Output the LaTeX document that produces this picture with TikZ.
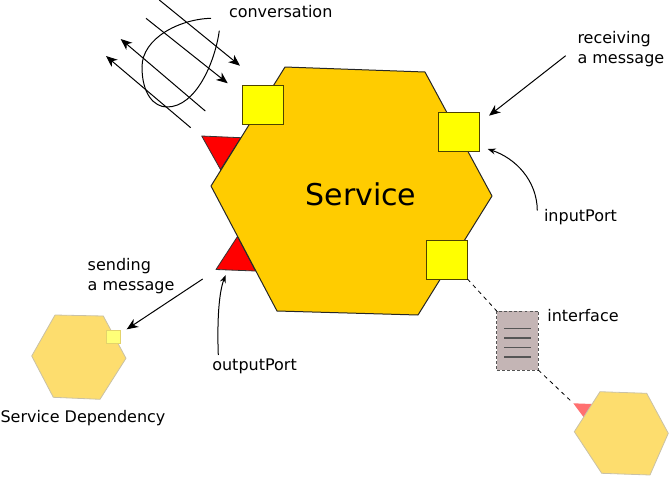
\documentclass[tikz,border=0pt]{standalone}
\usepackage{fontspec}
\setmainfont{DejaVu Sans}
\usetikzlibrary{arrows.meta}
\definecolor{svcfill}{HTML}{FFCC00}
\definecolor{portfill}{HTML}{FFFF00}
\definecolor{portline}{HTML}{4D4300}
\definecolor{lighthex}{HTML}{FDDD6E}
\definecolor{lighthexline}{HTML}{C9C1A6}
\definecolor{lightport}{HTML}{FFFF78}
\definecolor{lightportline}{HTML}{E3D36B}
\definecolor{pinktri}{HTML}{FF7070}
\definecolor{ifacefill}{HTML}{C4B5B5}
\definecolor{ifaceline}{HTML}{555555}
\tikzset{
  lbl/.style={font=\fontsize{12}{15}\selectfont, inner sep=0pt, outer sep=0pt, align=left},
  port/.style={draw=portline, fill=portfill, line width=0.75pt, inner sep=0pt, outer sep=0pt, minimum width=30.75pt, minimum height=29.25pt},
  redtri/.style={draw=black!80, fill=red, line width=0.6pt, line join=round},
  bigarrow/.style={draw=black, line width=0.75pt, -{Stealth[length=8.5pt,width=7pt,inset=2.5pt]}},
  smallarrow/.style={draw=black, line width=0.75pt, -{Stealth[length=6pt,width=4.5pt,inset=2pt]}},
  dashline/.style={draw=black, line width=0.6pt, dash pattern=on 3pt off 3pt},
}
\begin{document}
\begin{tikzpicture}[x=0.75pt,y=-0.75pt]
\useasboundingbox (0,0) rectangle (669,476);

% red output/input triangles behind the service
\path[redtri] (201.7,136) -- (241,137.7) -- (220.5,169.5) -- cycle;
\path[redtri] (216,269.5) -- (255.5,271) -- (237.5,236.5) -- cycle;

% main service hexagon
\path[draw=black!85, fill=svcfill, line width=0.75pt, line join=round]
  (285,67) -- (425,72) -- (492,196) -- (418,315) -- (277,311) -- (211,186) -- cycle;
\node[font=\fontsize{22.5}{27}\selectfont, inner sep=0pt, anchor=base] (service) at (361,205) {Service};

% ports
\node[port] (portA) at (263,104.5) {};
\node[port] (portB) at (459,131.5) {};
\node[port] (portC) at (447,259.5) {};

% conversation
\coordinate (c1s) at (159.3,0);   \coordinate (c1e) at (240,65.7);
\coordinate (c2s) at (146,18.3);  \coordinate (c2e) at (227.7,83.3);
\coordinate (c3s) at (205.3,111); \coordinate (c3e) at (120.7,39);
\coordinate (c4s) at (190.7,127.7); \coordinate (c4e) at (106,56);
\draw[bigarrow] (c1s) -- (c1e);
\draw[bigarrow] (c2s) -- (c2e);
\draw[bigarrow] (c3s) -- (c3e);
\draw[bigarrow] (c4s) -- (c4e);
\draw[line width=0.75pt] (211,18.3) .. controls (180,19) and (142,38) .. (142,67)
  .. controls (142,94) and (154,107) .. (167,107)
  .. controls (196,107) and (215,62) .. (219.3,30.7);
\node[lbl, anchor=base west] (conv) at (229,17) {conversation};

% receiving a message
\node[lbl, anchor=base west] (recv) at (577.5,63.5) {receiving\\a message};
\coordinate (recvS) at (565.7,55.7);
\coordinate (recvE) at (489,115.7);
\draw[bigarrow] (recvS) -- (recvE);

% inputPort
\node[lbl, anchor=base west] (inport) at (544,221) {inputPort};
\coordinate (inS) at (537.3,210.5);
\coordinate (inE) at (487.7,149);
\draw[smallarrow] (inS) .. controls (537,180) and (515,158) .. (inE);

% sending a message
\node[lbl, anchor=base west] (send) at (87.7,290) {sending\\a message};
\coordinate (sendS) at (202.7,279);
\coordinate (sendE) at (126.7,329.3);
\draw[bigarrow] (sendS) -- (sendE);

% outputPort
\node[lbl, anchor=base west] (outport) at (212.3,370) {outputPort};
\coordinate (outS) at (218.3,355);
\coordinate (outE) at (225.7,275);
\draw[smallarrow] (outS) .. controls (217,320) and (219,292) .. (outE);

% service dependency
\path[draw=lighthexline, fill=lighthex, line width=0.6pt, line join=round]
  (55,315) -- (103.3,316) -- (126,358.3) -- (100,399.3) -- (53.3,397.3) -- (31.7,356) -- cycle;
\node[draw=lightportline, fill=lightport, line width=0.6pt, inner sep=0pt, minimum width=10.5pt, minimum height=10pt] (depport) at (113.7,336.7) {};
\node[lbl, anchor=base west] (deplbl) at (0.5,422) {Service Dependency};

% interface
\node[draw=ifaceline, fill=ifacefill, line width=0.75pt, dash pattern=on 2.2pt off 1.6pt, inner sep=0pt, outer sep=0pt, minimum width=31.2pt, minimum height=44.25pt] (iface) at (517.5,340.5) {};
\foreach \yy in {328.7,337.9,347.3,357.0}
  \draw[ifaceline, line width=1.1pt] (504.3,\yy) -- (530.7,\yy);
\node[lbl, anchor=base west] (ifacelbl) at (547.3,321) {interface};

% external service
\coordinate (extTri) at (572,402);
\path[fill=pinktri] (573.3,403.3) -- (592,404) -- (585,419) -- cycle;
\path[draw=lighthexline, fill=lighthex, line width=0.6pt, line join=round]
  (600,391.7) -- (646.7,393.3) -- (668.3,433.3) -- (650,475) -- (601.7,473.3) -- (574.3,431.7) -- cycle;

% dashed links
\draw[dashline] (portC.south east) -- (iface.north west);
\draw[dashline] (iface.south east) -- (extTri);
\end{tikzpicture}
\end{document}
